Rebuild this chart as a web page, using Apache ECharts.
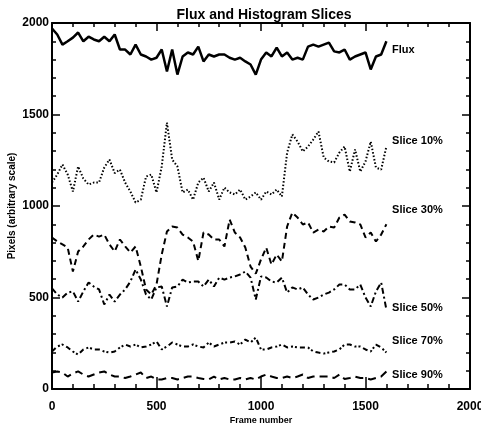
<!DOCTYPE html>
<html>
<head>
<meta charset="utf-8">
<script src="https://cdn.jsdelivr.net/npm/echarts@6/dist/echarts.min.js"></script>
<style>
  html, body { margin: 0; padding: 0; background: #fff; }
  #container { width: 481px; height: 427px; }
</style>
</head>
<body>
<div id="container"></div>
<script>
  // frame numbers, one sample every 25 frames
  var frames = [];
  for (var f = 0; f <= 1600; f += 25) frames.push(f);

  var flux = [1970, 1937, 1882, 1900, 1920, 1948, 1900, 1925, 1910, 1900, 1925, 1900, 1937, 1855, 1855, 1828,
    1882, 1828, 1817, 1800, 1810, 1855, 1735, 1855, 1718, 1817, 1839, 1828, 1871, 1790, 1828, 1817,
    1828, 1828, 1810, 1800, 1810, 1790, 1773, 1718, 1800, 1839, 1817, 1866, 1817, 1839, 1800, 1810,
    1800, 1871, 1882, 1871, 1882, 1893, 1845, 1839, 1855, 1800, 1817, 1828, 1839, 1746, 1817, 1828, 1900];
  var slice10 = [1128, 1172, 1227, 1172, 1079, 1216, 1150, 1117, 1128, 1128, 1210, 1254, 1180, 1199, 1128, 1079,
    1019, 1035, 1161, 1172, 1074, 1216, 1456, 1254, 1216, 1074, 1090, 1035, 1128, 1155, 1079, 1128,
    1035, 1101, 1074, 1063, 1090, 1035, 1052, 1074, 1035, 1079, 1063, 1090, 1052, 1292, 1391, 1352,
    1298, 1325, 1363, 1407, 1265, 1243, 1238, 1292, 1325, 1188, 1309, 1188, 1243, 1352, 1210, 1199, 1325];
  var slice30 = [828, 806, 790, 773, 642, 751, 779, 817, 844, 833, 844, 790, 751, 817, 779, 746,
    779, 669, 544, 516, 571, 735, 861, 888, 882, 844, 828, 806, 700, 855, 844, 817,
    817, 779, 926, 855, 828, 773, 669, 630, 708, 773, 680, 735, 697, 888, 964, 937,
    899, 910, 855, 871, 861, 888, 882, 937, 953, 915, 910, 899, 828, 855, 806, 844, 900];
  var slice50 = [550, 516, 500, 527, 533, 478, 533, 582, 560, 544, 462, 516, 478, 516, 544, 587,
    653, 598, 516, 489, 555, 560, 451, 555, 560, 598, 582, 587, 587, 560, 598, 560,
    609, 598, 609, 615, 626, 642, 609, 489, 615, 609, 587, 582, 609, 527, 555, 544,
    555, 516, 489, 500, 516, 527, 544, 571, 571, 544, 544, 571, 500, 451, 533, 582, 434];
  var slice70 = [205, 232, 243, 227, 205, 188, 216, 227, 216, 216, 205, 199, 205, 227, 243, 232,
    243, 227, 232, 243, 260, 216, 232, 254, 243, 232, 232, 243, 232, 227, 254, 232,
    243, 254, 254, 260, 243, 270, 254, 281, 216, 216, 227, 232, 243, 227, 232, 227,
    227, 227, 205, 199, 194, 200, 205, 216, 243, 243, 232, 232, 216, 205, 243, 227, 199];
  var slice90 = [90, 96, 90, 68, 85, 96, 79, 68, 79, 90, 96, 79, 68, 68, 60, 68,
    79, 90, 60, 68, 52, 52, 60, 60, 52, 60, 68, 68, 60, 55, 52, 68,
    52, 60, 52, 52, 60, 52, 60, 52, 68, 79, 68, 60, 60, 68, 60, 68,
    79, 60, 68, 68, 68, 68, 60, 79, 55, 60, 68, 60, 60, 52, 60, 68, 96];

  var seriesNames = ['Flux', 'Slice 10%', 'Slice 30%', 'Slice 50%', 'Slice 70%', 'Slice 90%'];
  var labelY = [1850, 1358, 981, 445, 260, 74];
  var labelX = 1627;

  var allValues = [flux, slice10, slice30, slice50, slice70, slice90];
  var dashes = ['solid', [1.5, 2], [6, 4], [6, 3, 2, 3], [5, 3, 2, 2, 2, 3], [8, 5]];
  var widths = [2.5, 2, 2, 2, 2, 2];

  var font = 'Liberation Sans';
  var echarts = window.echarts;
  var myChart = echarts.init(document.getElementById('container'));

  var series = [];
  allValues.forEach(function (vals, i) {
    series.push({
      name: seriesNames[i],
      type: 'line',
      showSymbol: false,
      animation: false,
      data: frames.map(function (fr, k) { return [fr, vals[k]]; }),
      lineStyle: { color: '#000', width: widths[i], type: dashes[i] }
    });
  });
  series.push({
    type: 'scatter',
    symbolSize: 0,
    animation: false,
    silent: true,
    itemStyle: { color: '#000', opacity: 1 },
    data: seriesNames.map(function (n, i) { return { value: [labelX, labelY[i]], name: n }; }),
    label: {
      show: true,
      position: [0, 0],
      align: 'left',
      verticalAlign: 'middle',
      formatter: '{b}',
      color: '#000',
      opacity: 1,
      textBorderWidth: 0,
      fontFamily: font,
      fontWeight: 'bold',
      fontSize: 11
    }
  });

  var tickStyle = { color: '#000', width: 1.5 };
  var plain = function (v) { return String(v); };
  var option = {
    backgroundColor: '#fff',
    title: {
      text: 'Flux and Histogram Slices',
      left: 259,
      textAlign: 'center',
      top: 3,
      textStyle: { fontFamily: font, fontSize: 14, fontWeight: 'bold', color: '#000' }
    },
    grid: { left: 52, right: 11, top: 23, bottom: 38, outerBoundsMode: 'none', containLabel: false },
    xAxis: [{
      type: 'value', min: 0, max: 2000, interval: 500,
      name: 'Frame number', nameLocation: 'middle', nameGap: 27, nameMoveOverlap: false,
      nameTextStyle: { fontFamily: font, fontSize: 9, fontWeight: 'bold', color: '#000' },
      axisLine: { onZero: false, lineStyle: { color: '#000', width: 2 } },
      axisTick: { inside: true, length: 12, lineStyle: tickStyle },
      minorTick: { show: true, splitNumber: 5, length: 5, lineStyle: tickStyle },
      axisLabel: { margin: 12, formatter: plain, fontFamily: font, fontSize: 12, fontWeight: 'bold', color: '#000' },
      splitLine: { show: false }
    }, {
      type: 'value', min: 0, max: 2000, interval: 500, position: 'top',
      axisLine: { onZero: false, lineStyle: { color: '#000', width: 2 } },
      axisTick: { inside: true, length: 8, lineStyle: tickStyle },
      minorTick: { show: true, splitNumber: 5, length: 4, lineStyle: tickStyle },
      axisLabel: { show: false },
      splitLine: { show: false }
    }],
    yAxis: [{
      type: 'value', min: 0, max: 2000, interval: 500,
      name: 'Pixels (arbitrary scale)', nameLocation: 'middle', nameGap: 35, nameMoveOverlap: false,
      nameTextStyle: { fontFamily: font, fontSize: 10, fontWeight: 'bold', color: '#000' },
      axisLine: { show: true, onZero: false, lineStyle: { color: '#000', width: 2 } },
      axisTick: { show: true, inside: true, length: 8, lineStyle: tickStyle },
      minorTick: { show: true, splitNumber: 5, length: 4, lineStyle: tickStyle },
      axisLabel: { margin: 3, formatter: plain, fontFamily: font, fontSize: 12, fontWeight: 'bold', color: '#000' },
      splitLine: { show: false }
    }, {
      type: 'value', min: 0, max: 2000, interval: 500, position: 'right',
      axisLine: { show: true, onZero: false, lineStyle: { color: '#000', width: 2 } },
      axisTick: { show: true, inside: true, length: 8, lineStyle: tickStyle },
      minorTick: { show: true, splitNumber: 5, length: 4, lineStyle: tickStyle },
      axisLabel: { show: false },
      splitLine: { show: false }
    }],
    series: series
  };

  myChart.setOption(option, true);
</script>
</body>
</html>
